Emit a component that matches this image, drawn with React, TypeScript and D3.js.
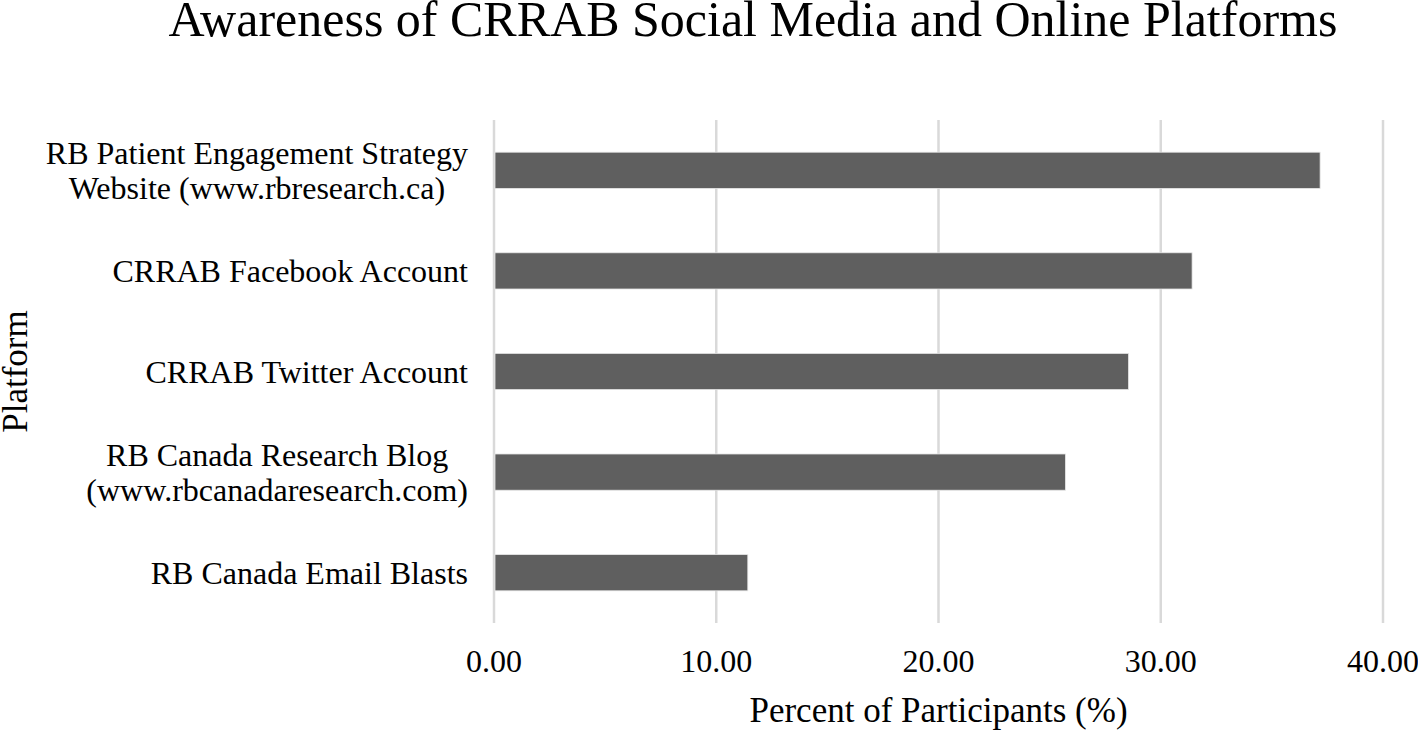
import React, { useRef, useEffect } from 'react';
import * as d3 from 'd3';

const platforms = [
  ['RB Patient Engagement Strategy', 'Website (www.rbresearch.ca)'],
  ['CRRAB Facebook Account'],
  ['CRRAB Twitter Account'],
  ['RB Canada Research Blog', '(www.rbcanadaresearch.com)'],
  ['RB Canada Email Blasts'],
];
const percents = [37.17, 31.41, 28.55, 25.71, 11.42];
const xTicks = [0, 10, 20, 30, 40];

const W = 1418;
const H = 730;
const FONT = '"Liberation Serif", "Times New Roman", serif';

function App() {
  const ref = useRef<SVGSVGElement | null>(null);

  useEffect(() => {
    if (!ref.current) return;
    const margin = { top: 120, right: 35, bottom: 107, left: 494 };
    const svg = d3.select(ref.current);
    svg.selectAll('*').remove();

    const x = d3.scaleLinear().domain([0, 40]).range([margin.left, W - margin.right]);
    const y = d3
      .scaleBand<number>()
      .domain(d3.range(platforms.length))
      .range([margin.top, H - margin.bottom])
      .paddingInner(0.64)
      .paddingOuter(0.32);

    svg.append('rect').attr('width', W).attr('height', H).attr('fill', '#fff');

    // title
    svg
      .append('text')
      .attr('x', 753)
      .attr('y', 36)
      .attr('text-anchor', 'middle')
      .style('font-family', FONT)
      .style('font-size', '50px')
      .attr('fill', '#000')
      .text('Awareness of CRRAB Social Media and Online Platforms');

    // gridlines
    svg
      .append('g')
      .selectAll('line')
      .data(xTicks)
      .join('line')
      .attr('x1', (d) => x(d))
      .attr('x2', (d) => x(d))
      .attr('y1', margin.top)
      .attr('y2', H - margin.bottom)
      .attr('stroke', '#d9d9d9')
      .attr('stroke-width', 2.5);

    // bars
    svg
      .append('g')
      .selectAll('rect')
      .data(percents)
      .join('rect')
      .attr('x', x(0) + 1)
      .attr('y', (_, i) => y(i)!)
      .attr('width', (d) => x(d) - x(0) - 1)
      .attr('height', y.bandwidth())
      .attr('fill', '#5f5f5f')
      .attr('stroke', '#e6e6e6')
      .attr('stroke-width', 0.8);

    // tick labels
    svg
      .append('g')
      .selectAll('text')
      .data(xTicks)
      .join('text')
      .attr('x', (d) => x(d))
      .attr('y', 672)
      .attr('text-anchor', 'middle')
      .style('font-family', FONT)
      .style('font-size', '32px')
      .attr('fill', '#000')
      .text((d) => d3.format('.2f')(d));

    // category labels: lines centred on each other, block right aligned
    const lineH = 35;
    const labelRight = 468;
    platforms.forEach((lines, i) => {
      const cy = y(i)! + y.bandwidth() / 2;
      const g = svg.append('g');
      const texts = lines.map((ln, j) =>
        g
          .append('text')
          .attr('y', cy + (j - (lines.length - 1) / 2) * lineH)
          .attr('dy', '0.35em')
          .attr('text-anchor', 'middle')
          .style('font-family', FONT)
          .style('font-size', '32px')
          .attr('fill', '#000')
          .text(ln)
      );
      const maxW = d3.max(texts, (t) => (t.node() as SVGTextElement).getComputedTextLength()) || 0;
      texts.forEach((t) => t.attr('x', labelRight - maxW / 2));
    });

    // axis titles
    svg
      .append('text')
      .attr('x', x(20))
      .attr('y', 722)
      .attr('text-anchor', 'middle')
      .style('font-family', FONT)
      .style('font-size', '35px')
      .attr('fill', '#000')
      .text('Percent of Participants (%)');

    svg
      .append('text')
      .attr('transform', `translate(27,${(margin.top + H - margin.bottom) / 2}) rotate(-90)`)
      .attr('text-anchor', 'middle')
      .style('font-family', FONT)
      .style('font-size', '35px')
      .attr('fill', '#000')
      .text('Platform');
  }, []);

  return (
    <div style={{ position: 'absolute', left: 0, top: 0 }}>
      <svg ref={ref} width={W} height={H} style={{ display: 'block' }} />
    </div>
  );
}

export default App;
